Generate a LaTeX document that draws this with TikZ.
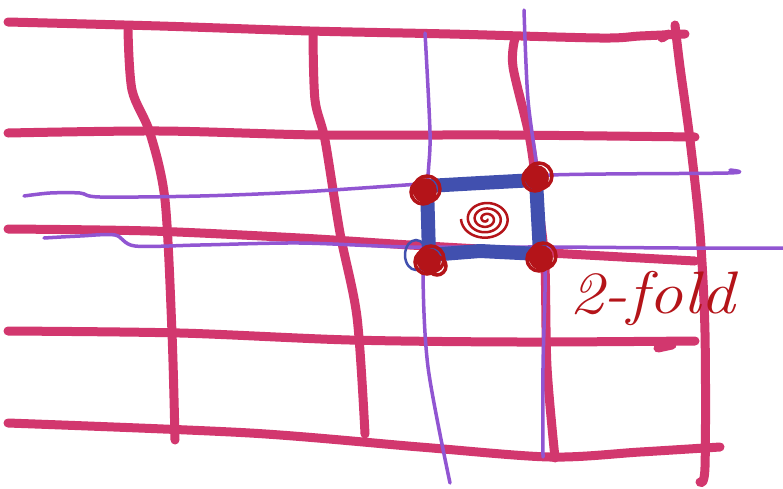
\documentclass[tikz,border=0pt]{standalone}
\usepackage{tikz}
\definecolor{gridpink}{RGB}{210,55,110}
\definecolor{latpurple}{RGB}{145,85,210}
\definecolor{sqblue}{RGB}{65,80,175}
\definecolor{inkred}{RGB}{180,20,25}
\tikzset{
  pinkline/.style={draw=gridpink,line width=9pt,line cap=round,line join=round},
  purpline/.style={draw=latpurple,line width=3.5pt,line cap=round,line join=round},
  blueline/.style={draw=sqblue,line width=14pt,line cap=round,line join=round},
  redink/.style={draw=inkred,line width=3.5pt,line cap=round},
}
\begin{document}
\begin{tikzpicture}[x=1pt,y=-1pt]
\useasboundingbox[fill=white] (0,0) rectangle (783,488);
% pink horizontal lines
\draw[pinkline] plot[smooth] coordinates {(8,22) (160,26) (310,31) (450,34) (600,38) (640,36) (685,34)};
\draw[pinkline] (662,38) -- (668,34);
\draw[pinkline] plot[smooth] coordinates {(8,133) (160,131) (320,135) (500,135) (695,137)};
\draw[pinkline] plot[smooth] coordinates {(8,229) (150,231) (300,238) (410,245) (550,253) (695,261)};
\draw[pinkline] plot[smooth] coordinates {(8,331) (180,333) (350,340) (520,342) (695,341)};
\draw[pinkline] (658,348) -- (672,345);
\draw[pinkline] plot[smooth] coordinates {(8,423) (250,433) (420,447) (550,457) (640,452) (720,447)};
% pink vertical lines
\draw[pinkline] plot[smooth] coordinates {(128,30) (132,90) (150,133) (165,200) (172,333) (175,440)};
\draw[pinkline] plot[smooth] coordinates {(313,35) (315,100) (325,140) (340,233) (357,317) (365,434)};
\draw[pinkline] plot[smooth] coordinates {(515,38) (513,67) (530,140) (540,217) (545,267) (547,367) (555,458)};
\draw[pinkline] plot[smooth] coordinates {(675,25) (680,67) (690,140) (700,233) (705,333) (705,467) (700,482)};
% purple lattice
\draw[purpline] plot[smooth] coordinates {(425,33) (430,133) (428,177) (423,267) (428,367) (450,483)};
\draw[purpline] plot[smooth] coordinates {(524,10) (528,100) (538,177) (545,267) (543,367) (543,457)};
\draw[purpline] plot[smooth] coordinates {(24,196) (50,193) (80,193) (100,197) (200,196) (300,192) (420,184) (550,175) (728,173) (730,170)};
\draw[purpline] plot[smooth] coordinates {(44,238) (80,236) (115,235) (135,246) (200,245) (300,243) (410,247) (550,247) (680,248) (783,248)};
% blue square
\draw[blueline] (427,186) -- (480,183) -- (536,180) -- (540,254) -- (480,251) -- (429,255) -- cycle;
\draw[draw=sqblue,line width=2.5pt] (416,255) circle[x radius=11pt,y radius=15pt];
% red corner scribbles
\foreach \cx/\cy in {425/190, 537/177, 429/260, 541/257}{
  \draw[redink,fill=inkred] (\cx,\cy) circle[radius=10pt];
  \draw[redink] (\cx+2,\cy-1) circle[radius=13pt];
  \draw[redink] (\cx-2,\cy+2) circle[radius=12pt];
}
\draw[redink] (437,266) circle[radius=9pt];
% red spiral
\draw[draw=inkred,line width=2.5pt] plot[domain=0:1260,samples=240,smooth]
  ({486+(1+\x/1260*24)*cos(\x)},{219+(1+\x/1260*19)*sin(\x)});
% label
\node[text=inkred,font=\fontsize{60}{60}\selectfont\itshape,xscale=1.15,anchor=center] (lbl) at (652,298) {2-fold};
\end{tikzpicture}
\end{document}
